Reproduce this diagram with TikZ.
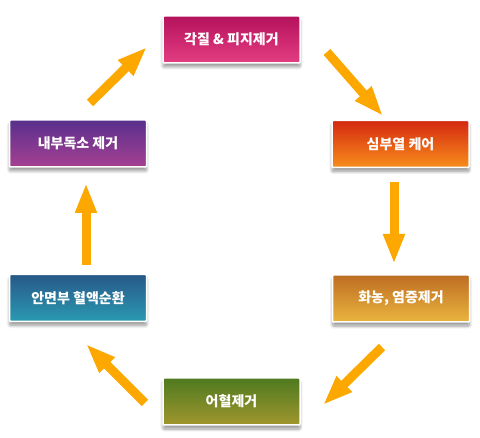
\documentclass[tikz,border=0pt]{standalone}
\usepackage{fontspec}
\newfontfamily\kr{Noto Sans CJK KR}
\usetikzlibrary{arrows.meta,shadows.blur}
\definecolor{arrC}{RGB}{252,168,0}
\definecolor{tT}{RGB}{180,18,92}\definecolor{tB}{RGB}{228,62,130}
\definecolor{r1T}{RGB}{212,40,16}\definecolor{r1B}{RGB}{248,142,28}
\definecolor{r2T}{RGB}{190,110,35}\definecolor{r2B}{RGB}{234,180,62}
\definecolor{bT}{RGB}{78,122,32}\definecolor{bB}{RGB}{160,150,45}
\definecolor{l2T}{RGB}{40,88,136}\definecolor{l2B}{RGB}{42,154,178}
\definecolor{l1T}{RGB}{88,48,140}\definecolor{l1B}{RGB}{166,64,146}
\tikzset{
  stepbox/.style 2 args={rectangle, rounded corners=1pt, minimum width=137pt, minimum height=47pt,
    top color=#1, bottom color=#2, draw=white, line width=1.5pt,
    blur shadow={shadow xshift=0pt, shadow yshift=-4pt, shadow blur steps=8, shadow blur radius=3pt, shadow opacity=40},
    text=white, font=\kr\bfseries\fontsize{14}{16}\selectfont, inner sep=0pt},
  arr/.style={draw=arrC, line width=9pt, -{Triangle[length=30pt,width=20pt]}}
}
\begin{document}
\begin{tikzpicture}[x=1pt,y=-1pt]
\useasboundingbox (0,0) rectangle (480,438);
\node[stepbox={tT}{tB}]   (T)  at (231.5,39.5) {각질 \& 피지제거};
\node[stepbox={r1T}{r1B}] (R1) at (400.5,144) {심부열 케어};
\node[stepbox={r2T}{r2B}] (R2) at (401,298.5) {화농, 염증제거};
\node[stepbox={bT}{bB}]   (B)  at (231.5,401.5) {어혈제거};
\node[stepbox={l2T}{l2B}] (L2) at (78,298) {안면부 혈액순환};
\node[stepbox={l1T}{l1B}] (L1) at (78,143.5) {내부독소 제거};
\coordinate (a1s) at (90,103);  \coordinate (a1e) at (147,47);
\coordinate (a2s) at (327,52);  \coordinate (a2e) at (383,116);
\coordinate (a3s) at (394,182); \coordinate (a3e) at (394,264);
\coordinate (a4s) at (382,347); \coordinate (a4e) at (323,405);
\coordinate (a5s) at (145,403); \coordinate (a5e) at (86,344);
\coordinate (a6s) at (86,265);  \coordinate (a6e) at (86,183);
\draw[arr] (a1s) -- (a1e);
\draw[arr] (a2s) -- (a2e);
\draw[arr] (a3s) -- (a3e);
\draw[arr] (a4s) -- (a4e);
\draw[arr] (a5s) -- (a5e);
\draw[arr] (a6s) -- (a6e);
\end{tikzpicture}
\end{document}
